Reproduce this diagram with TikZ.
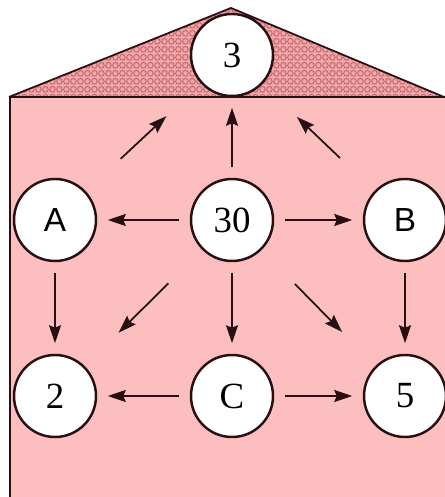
\documentclass[tikz,border=0pt]{standalone}
\usepackage{fontspec}
\setmainfont{Liberation Serif}
\setsansfont{Liberation Sans}
\usetikzlibrary{arrows.meta, patterns}
\definecolor{wallpink}{RGB}{252,190,190}
\definecolor{roofpink}{RGB}{240,165,168}
\definecolor{roofline}{RGB}{190,95,100}
\definecolor{ink}{RGB}{40,15,18}
\pgfdeclarepatternformonly{roofscales}{\pgfpointorigin}{\pgfqpoint{4.2pt}{4.6pt}}{\pgfqpoint{4.2pt}{4.6pt}}{%
  \pgfsetlinewidth{0.5pt}
  \pgfpathellipse{\pgfqpoint{2.1pt}{2.3pt}}{\pgfqpoint{1.7pt}{0pt}}{\pgfqpoint{0pt}{1.8pt}}
  \pgfusepath{stroke}}

\begin{document}
\begin{tikzpicture}[
  state/.style={circle, draw=ink, line width=1.4pt, fill=white, minimum size=1.64cm, inner sep=0pt, font=\fontsize{21}{24}\selectfont},
  letter/.style={state, font=\fontsize{19}{22}\selectfont\sffamily},
  flow/.style={draw=ink, line width=1pt, -{Stealth[length=3.6mm,width=2.4mm,inset=0.5mm]}, shorten >=6pt, shorten <=6pt},
  far/.style={flow, shorten >=27pt, shorten <=27pt}]
  \useasboundingbox (0,0) rectangle (8.88,9.94);
  % wall and roof
  \fill[wallpink] (0.2,0) rectangle (9,8);
  \fill[roofpink] (0.18,8) -- (4.62,9.78) -- (8.88,8) -- cycle;
  \fill[pattern=roofscales, pattern color=roofline] (0.18,8) -- (4.62,9.78) -- (8.88,8) -- cycle;
  \draw[ink, line width=1pt] (0.18,8) -- (4.62,9.78) -- (8.88,8);
  \draw[ink, line width=1.2pt] (0.2,0) -- (0.2,8) -- (9,8);
  % states
  \node[state] (top) at (4.64,8.84) {3};
  \node[letter] (a) at (1.10,5.54) {A};
  \node[state] (mid) at (4.64,5.54) {30};
  \node[letter] (b) at (8.10,5.54) {B};
  \node[state] (two) at (1.10,2.02) {2};
  \node[state] (c) at (4.64,2.02) {C};
  \node[state] (five) at (8.10,2.02) {5};
  % transitions
  \draw[far] (a) -- (top);
  \draw[flow] (mid) -- (top);
  \draw[far] (b) -- (top);
  \draw[flow] (mid) -- (a);
  \draw[flow] (mid) -- (b);
  \draw[flow] (a) -- (two);
  \draw[far] (mid) -- (two);
  \draw[flow] (mid) -- (c);
  \draw[far] (mid) -- (five);
  \draw[flow] (b) -- (five);
  \draw[flow] (c) -- (two);
  \draw[flow] (c) -- (five);
\end{tikzpicture}
\end{document}
